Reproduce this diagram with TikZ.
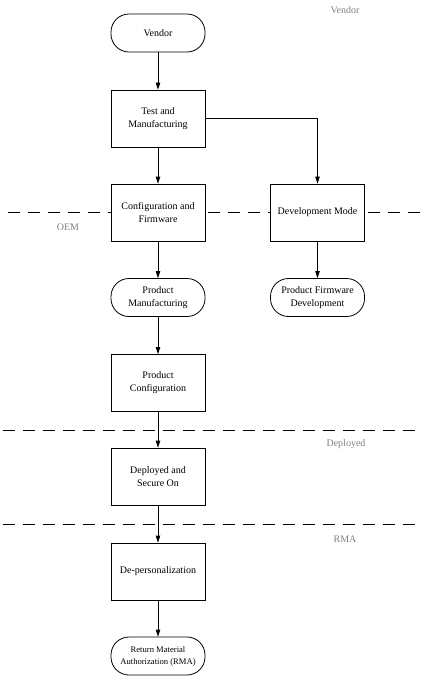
\documentclass[tikz,border=0pt]{standalone}
\usepackage{fontspec}
\setmainfont{Liberation Serif}
\usetikzlibrary{arrows.meta}

\begin{document}
\begin{tikzpicture}[x=1pt,y=-1pt]

%-------------------------------------------------
% Styles
%-------------------------------------------------
\tikzset{
  flowbox/.style={draw, fill=white, line width=0.8pt, minimum width=94pt,
    minimum height=57pt, align=center, inner sep=2pt,
    font=\fontsize{10}{13}\selectfont},
  terminal/.style={draw, fill=white, line width=0.8pt, rounded corners=18pt,
    minimum width=94pt, minimum height=38pt, align=center, inner sep=2pt,
    font=\fontsize{10}{13}\selectfont},
  phaseline/.style={draw=black, line width=0.8pt, dash pattern=on 12pt off 8pt},
  phaselabel/.style={text=gray, font=\fontsize{10}{12}\selectfont},
  flow/.style={-{Triangle[length=7pt,width=4.5pt]}, line width=0.8pt}
}

\useasboundingbox (0,0) rectangle (426,679);

%-------------------------------------------------
% Phase separators and labels
%-------------------------------------------------
\draw[phaseline] (8,212) -- (420,212);
\draw[phaseline] (3,430) -- (418,430);
\draw[phaseline] (3,524) -- (418,524);

\node[phaselabel] (LVendor)   at (345,10)  {Vendor};
\node[phaselabel] (LOEM)      at (68,227)  {OEM};
\node[phaselabel] (LDeployed) at (346,444) {Deployed};
\node[phaselabel] (LRMA)      at (345,539) {RMA};

%-------------------------------------------------
% Main flow
%-------------------------------------------------
\node[terminal] (Vendor)   at (158,33)    {Vendor};
\node[flowbox]  (Test)     at (158,118.5) {Test and\\Manufacturing};
\node[flowbox]  (Config)   at (158,212.5) {Configuration and\\Firmware};
\node[terminal] (ProdMfg)  at (158,297.5) {Product\\Manufacturing};
\node[flowbox]  (ProdConf) at (158,383)   {Product\\Configuration};
\node[flowbox]  (Deployed) at (158,476.5) {Deployed and\\Secure On};
\node[flowbox]  (Depers)   at (158,571.5) {De-personalization};
\node[terminal, font=\fontsize{8.6}{12}\selectfont]
                (RMA)      at (158,656)   {Return Material\\Authorization (RMA)};

%-------------------------------------------------
% Development branch
%-------------------------------------------------
\node[flowbox]  (DevMode)  at (317.5,212.5) {Development Mode};
\node[terminal] (FwDev)    at (317.5,297.5) {Product Firmware\\Development};

%-------------------------------------------------
% Connectors
%-------------------------------------------------
\draw[flow] (Vendor) -- (Test);
\draw[flow] (Test) -- (Config);
\draw[flow] (Test.east) -| (DevMode.north);
\draw[flow] (Config) -- (ProdMfg);
\draw[flow] (DevMode) -- (FwDev);
\draw[flow] (ProdMfg) -- (ProdConf);
\draw[flow] (ProdConf) -- (Deployed);
\draw[flow] (Deployed) -- (Depers);
\draw[flow] (Depers) -- (RMA);

\end{tikzpicture}
\end{document}
